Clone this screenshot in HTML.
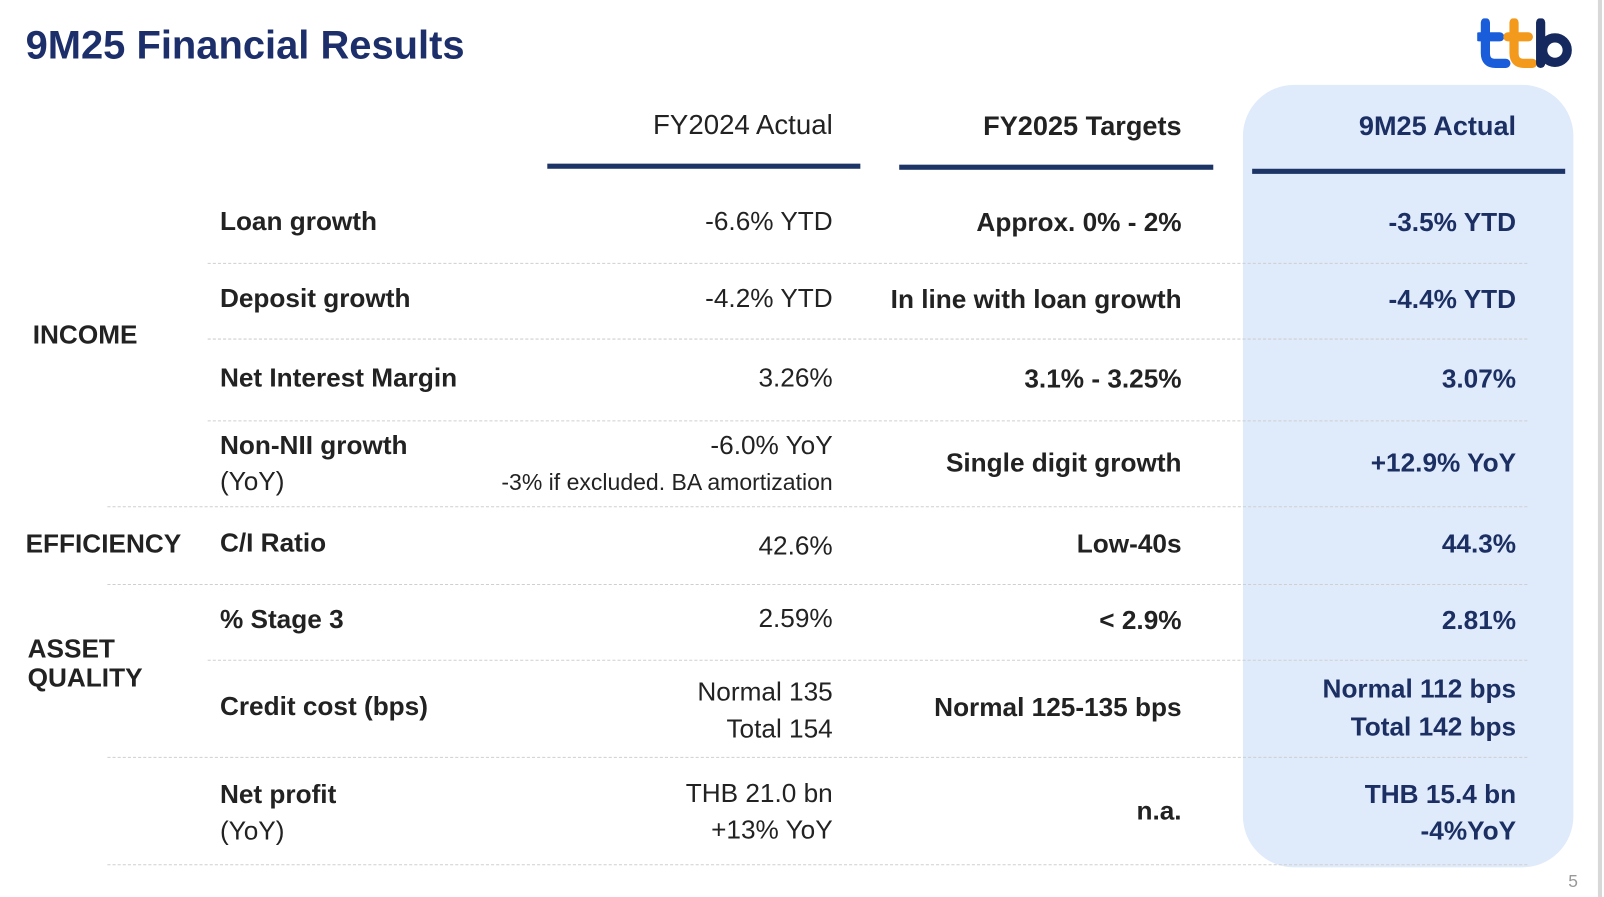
<!DOCTYPE html>
<html><head><style>
html,body{margin:0;padding:0;background:#fff;overflow:hidden}
body{width:1604px;height:897px;position:relative}
#s{position:absolute;left:0;top:0;width:1568px;height:877px;transform:scale(1.0230,1.0228);transform-origin:0 0;font-family:"Liberation Sans",sans-serif}
.t{position:absolute;white-space:nowrap;font-size:25.6px;color:#222;line-height:30px}
.b{font-weight:bold}
.r{text-align:right}
.n{color:#1c2f63}
.hr{position:absolute;border-top:1px dashed #cfcfcf;height:0}
.ul{position:absolute;height:5px;background:#1c3566}
</style></head><body><div id="s">
<div style="position:absolute;left:1215px;top:83px;width:323px;height:765px;border-radius:50px;background:#dfeafb"></div>
<div style="position:absolute;left:1562px;top:0;width:4px;height:877px;background:#d8d8d8"></div>
<div class="t b" style="left:25px;top:23px;font-size:39px;line-height:44px;color:#1c2f6b">9M25 Financial Results</div>
<svg style="position:absolute;left:1444px;top:18px" width="94" height="50" viewBox="0 0 94 50">
<path d="M8 4 V34 Q8 44 18 44 H28 M2 18 H22" stroke="#1a5ddb" stroke-width="9" fill="none" stroke-linecap="round"/>
<path d="M36 4 V34 Q36 44 46 44 H54 M30 18 H50" stroke="#f39a1c" stroke-width="9" fill="none" stroke-linecap="round"/>
<path d="M62 4 V44" stroke="#16295e" stroke-width="9" stroke-linecap="round"/>
<circle cx="76" cy="31" r="12" stroke="#16295e" stroke-width="9" fill="none"/>
</svg>
<div class="t r" style="right:754px;top:107px;font-size:27px">FY2024 Actual</div>
<div class="t b r" style="right:413px;top:108px;font-size:26.5px">FY2025 Targets</div>
<div class="t b r n" style="right:86px;top:108px;font-size:26.5px">9M25 Actual</div>
<div class="ul" style="left:535px;top:160px;width:306px"></div>
<div class="ul" style="left:879px;top:161px;width:307px"></div>
<div class="ul" style="left:1224px;top:165px;width:306px"></div>

<div class="hr" style="left:203px;top:257px;width:1290px"></div>
<div class="hr" style="left:203px;top:331px;width:1290px"></div>
<div class="hr" style="left:203px;top:411px;width:1290px"></div>
<div class="hr" style="left:105px;top:495px;width:1388px"></div>
<div class="hr" style="left:105px;top:571px;width:1388px"></div>
<div class="hr" style="left:203px;top:645px;width:1290px"></div>
<div class="hr" style="left:105px;top:740px;width:1388px"></div>
<div class="hr" style="left:105px;top:845px;width:1388px"></div>

<div class="t b" style="left:32px;top:313px">INCOME</div>
<div class="t b" style="left:25px;top:517px">EFFICIENCY</div>
<div class="t b" style="left:27px;top:621px;line-height:28px">ASSET<br>QUALITY</div>

<div class="t b" style="left:215px;top:202px">Loan growth</div>
<div class="t r" style="right:754px;top:202px">-6.6% YTD</div>
<div class="t b r" style="right:413px;top:203px">Approx. 0% - 2%</div>
<div class="t b r n" style="right:86px;top:203px">-3.5% YTD</div>

<div class="t b" style="left:215px;top:277px">Deposit growth</div>
<div class="t r" style="right:754px;top:277px">-4.2% YTD</div>
<div class="t b r" style="right:413px;top:278px">In line with loan growth</div>
<div class="t b r n" style="right:86px;top:278px">-4.4% YTD</div>

<div class="t b" style="left:215px;top:355px">Net Interest Margin</div>
<div class="t r" style="right:754px;top:355px">3.26%</div>
<div class="t b r" style="right:413px;top:356px">3.1% - 3.25%</div>
<div class="t b r n" style="right:86px;top:356px">3.07%</div>

<div class="t" style="left:215px;top:419px;line-height:35px"><b>Non-NII growth</b><br>(YoY)</div>
<div class="t r" style="right:754px;top:421px">-6.0% YoY</div>
<div class="t r" style="right:754px;top:459px;font-size:22.5px;line-height:26px">-3% if excluded. BA amortization</div>
<div class="t b r" style="right:413px;top:438px">Single digit growth</div>
<div class="t b r n" style="right:86px;top:438px">+12.9% YoY</div>

<div class="t b" style="left:215px;top:516px">C/I Ratio</div>
<div class="t r" style="right:754px;top:519px">42.6%</div>
<div class="t b r" style="right:413px;top:517px">Low-40s</div>
<div class="t b r n" style="right:86px;top:517px">44.3%</div>

<div class="t b" style="left:215px;top:591px">% Stage 3</div>
<div class="t r" style="right:754px;top:590px">2.59%</div>
<div class="t b r" style="right:413px;top:592px">&lt; 2.9%</div>
<div class="t b r n" style="right:86px;top:592px">2.81%</div>

<div class="t b" style="left:215px;top:676px">Credit cost (bps)</div>
<div class="t r" style="right:754px;top:659px;line-height:36px">Normal 135<br>Total 154</div>
<div class="t b r" style="right:413px;top:677px">Normal 125-135 bps</div>
<div class="t b r n" style="right:86px;top:656px;line-height:37px">Normal 112 bps<br>Total 142 bps</div>

<div class="t" style="left:215px;top:759px;line-height:36px"><b>Net profit</b><br>(YoY)</div>
<div class="t r" style="right:754px;top:758px;line-height:36px">THB 21.0 bn<br>+13% YoY</div>
<div class="t b r" style="right:413px;top:778px">n.a.</div>
<div class="t b r n" style="right:86px;top:759px;line-height:36px">THB 15.4 bn<br>-4%YoY</div>

<div class="t" style="left:1533px;top:847px;font-size:17px;color:#999">5</div>
</div></body></html>
